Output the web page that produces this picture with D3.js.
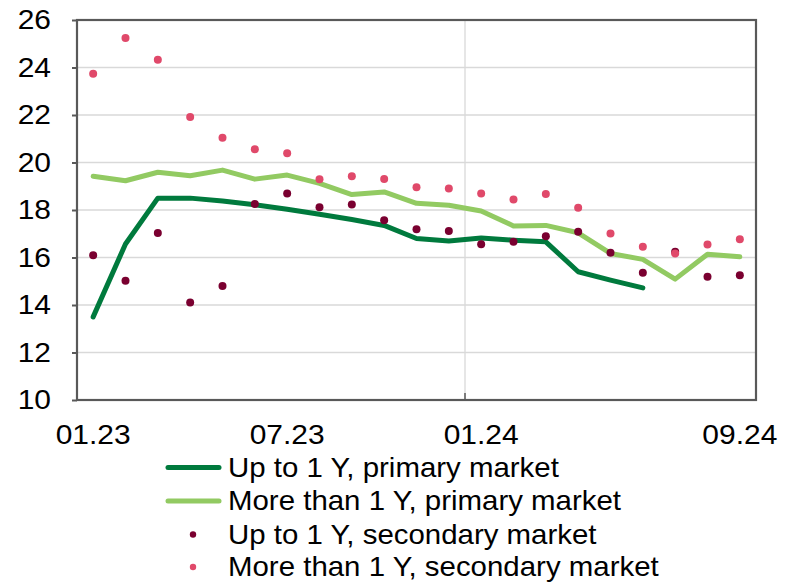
<!DOCTYPE html>
<html><head><meta charset="utf-8">
<script src="https://cdn.jsdelivr.net/npm/d3@7"></script>
<style>body{margin:0;background:#fff}svg{display:block;font-family:"Liberation Sans",Arial,sans-serif}</style>
</head><body><svg id="c" width="792" height="582"></svg>
<script>
const months = ["01.23","02.23","03.23","04.23","05.23","06.23","07.23","08.23","09.23","10.23","11.23","12.23",
                "01.24","02.24","03.24","04.24","05.24","06.24","07.24","08.24","09.24"];
const tickLabels = ["01.23","07.23","01.24","09.24"];
const yTicks = [10,12,14,16,18,20,22,24,26];
const upTo1Primary = [13.5,16.57,18.5,18.5,18.38,18.22,18.03,17.82,17.6,17.35,16.8,16.69,16.82,16.73,16.66,15.4,15.05,14.72,null,null,null];
const moreThan1Primary = [19.42,19.23,19.59,19.44,19.68,19.3,19.47,19.12,18.65,18.76,18.28,18.2,17.96,17.33,17.35,17.04,16.17,15.92,15.09,16.14,16.03];
const upTo1Secondary = [16.1,15.02,17.03,14.11,14.8,18.25,18.7,18.12,18.23,17.57,17.19,17.12,16.56,16.66,16.89,17.08,16.2,15.36,16.24,15.19,15.25];
const moreThan1Secondary = [23.74,25.24,24.33,21.92,21.04,20.56,20.39,19.3,19.42,19.31,18.96,18.91,18.7,18.44,18.67,18.09,17.01,16.45,16.17,16.55,16.77];
const seriesNames = ["Up to 1 Y, primary market","More than 1 Y, primary market","Up to 1 Y, secondary market","More than 1 Y, secondary market"];
const colors = ["#007A3D","#92CA62","#7A0030","#E0496A"];

const svg = d3.select("#c");
const L=77, R=756, T=20, B=400;
const SX = 1.09; // horizontal text stretch seen in reference
const x = d3.scaleBand().domain(months).range([L,R]);
const y = d3.scaleLinear().domain([10,26]).range([B,T]);
const cx = m => x(m) + x.bandwidth()/2;

// gridlines
svg.append("g").selectAll("line").data(yTicks.filter(v=>v>10&&v<26)).join("line")
  .attr("x1",L).attr("x2",R).attr("y1",d=>y(d)).attr("y2",d=>y(d))
  .attr("stroke","#d9d9d9").attr("stroke-width",1.3);
svg.append("line").attr("x1",x("01.24")).attr("x2",x("01.24")).attr("y1",T).attr("y2",B)
  .attr("stroke","#d9d9d9").attr("stroke-width",1.3);

// y axis
const yAxis = d3.axisLeft(y).tickValues(yTicks).tickSize(5).tickPadding(20).tickFormat(d3.format("d"));
const gy = svg.append("g").attr("transform",`translate(${L},0)`).call(yAxis);
gy.select(".domain").remove();
gy.selectAll(".tick line").attr("stroke","#595959").attr("stroke-width",2);
gy.selectAll(".tick text").attr("font-size",27.5).attr("fill","#000").attr("font-family","Liberation Sans, Arial, sans-serif")
  .attr("x",0).attr("transform",`translate(-26,0) scale(${SX},1)`);

// x axis labels
const xAxis = d3.axisBottom(x).tickValues(tickLabels).tickSize(0).tickPadding(24);
const gx = svg.append("g").attr("transform",`translate(0,${B})`).call(xAxis);
gx.select(".domain").remove();
gx.selectAll(".tick text").attr("font-size",27.5).attr("fill","#000").attr("font-family","Liberation Sans, Arial, sans-serif")
  .attr("y",0).attr("transform",`translate(0,24) scale(${SX},1)`);
svg.append("line").attr("x1",x("01.24")).attr("x2",x("01.24")).attr("y1",B-7).attr("y2",B)
  .attr("stroke","#595959").attr("stroke-width",1.5);

// frame
svg.append("rect").attr("x",L).attr("y",T).attr("width",R-L).attr("height",B-T)
  .attr("fill","none").attr("stroke","#595959").attr("stroke-width",2.2);

// lines
const line = d3.line().defined(d=>d.v!=null).x(d=>cx(d.m)).y(d=>y(d.v));
[upTo1Primary, moreThan1Primary].forEach((s,i)=>{
  svg.append("path").datum(months.map((m,j)=>({m, v:s[j]})))
    .attr("d",line).attr("fill","none").attr("stroke",colors[i]).attr("stroke-width",5)
    .attr("stroke-linejoin","round").attr("stroke-linecap","round");
});
// dots
[upTo1Secondary, moreThan1Secondary].forEach((s,i)=>{
  svg.append("g").selectAll("circle").data(months.map((m,j)=>({m, v:s[j]}))).join("circle")
    .attr("cx",d=>cx(d.m)).attr("cy",d=>y(d.v)).attr("r",4).attr("fill",colors[i+2]);
});

// legend
const lg = svg.append("g");
const rows = [467.5, 501, 534.5, 567];
seriesNames.forEach((n,i)=>{
  const g = lg.append("g").attr("transform",`translate(0,${rows[i]})`);
  if(i<2){
    g.append("line").attr("x1",168).attr("x2",219).attr("y1",0).attr("y2",0)
      .attr("stroke",colors[i]).attr("stroke-width",5).attr("stroke-linecap","round");
  } else {
    g.append("circle").attr("cx",193).attr("cy",0).attr("r",3.2).attr("fill",colors[i]);
  }
  g.append("text").attr("transform",`translate(228,0) scale(${SX},1)`).attr("dy","0.35em")
    .attr("font-size",27).attr("fill","#000").text(n);
});
</script></body></html>
